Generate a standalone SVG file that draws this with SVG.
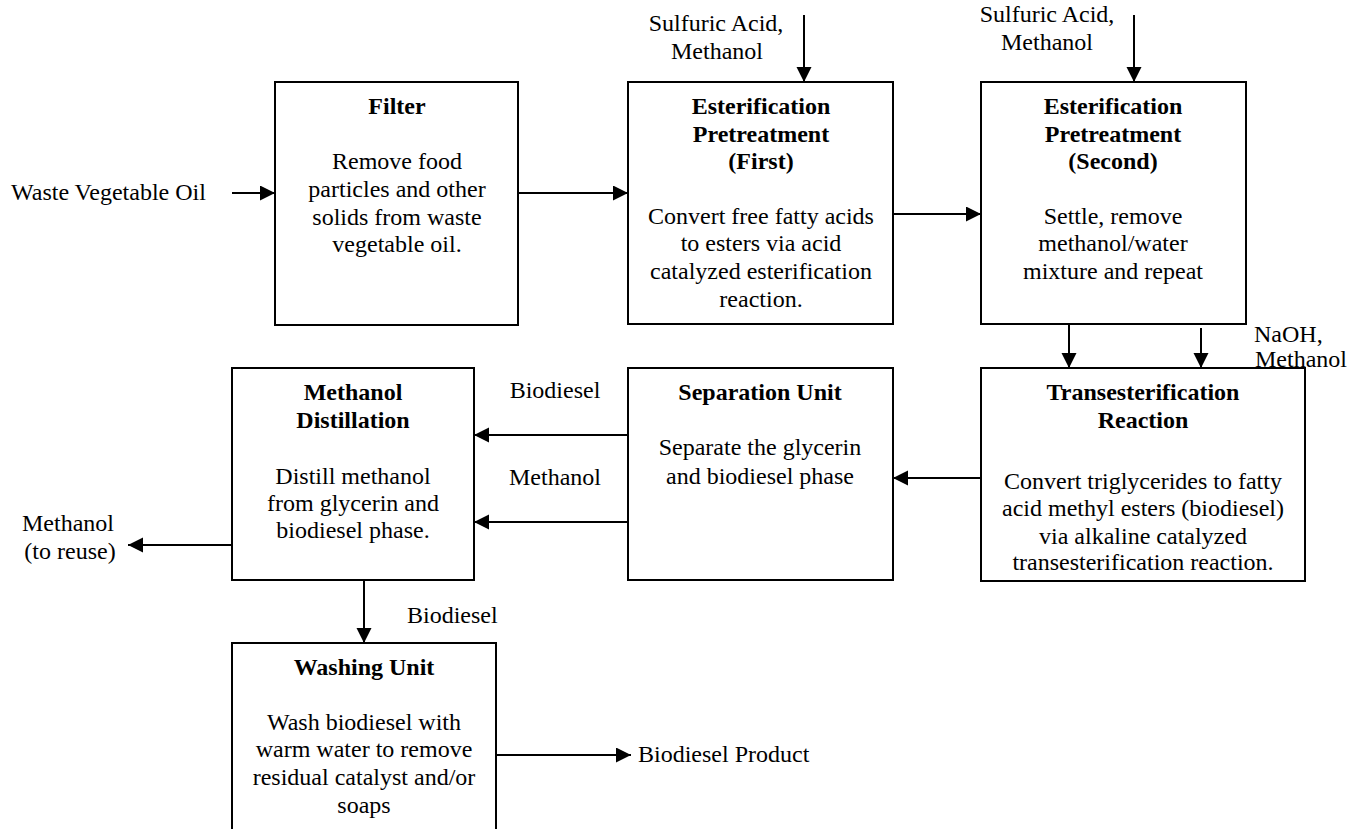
<svg xmlns="http://www.w3.org/2000/svg" width="1355" height="829" viewBox="0 0 1355 829">
  <style>
    text { font-family: "Liberation Serif", "Times New Roman", serif; font-size: 24px; fill: #000; }
    .t { font-weight: bold; text-anchor: middle; }
    .b { text-anchor: middle; }
    .box { fill: #fff; stroke: #000; stroke-width: 2; }
    .flow { fill: none; stroke: #000; stroke-width: 2; marker-end: url(#head); }
  </style>
  <defs>
    <marker id="head" markerUnits="userSpaceOnUse" markerWidth="16" markerHeight="16" refX="15" refY="7.5" orient="auto">
      <path d="M0,0 L15,7.5 L0,15 z" fill="#000"/>
    </marker>
  </defs>
  <rect width="1355" height="829" fill="#fff"/>

  <!-- connectors -->
  <g id="connectors">
    <line class="flow" x1="232" y1="193" x2="275" y2="193"/>
    <line class="flow" x1="518" y1="193" x2="628" y2="193"/>
    <line class="flow" x1="893" y1="214" x2="981" y2="214"/>
    <line class="flow" x1="804" y1="15" x2="804" y2="82"/>
    <line class="flow" x1="1134" y1="15" x2="1134" y2="82"/>
    <line class="flow" x1="1069" y1="324" x2="1069" y2="368"/>
    <line class="flow" x1="1201" y1="328" x2="1201" y2="368"/>
    <line class="flow" x1="981" y1="478" x2="893" y2="478"/>
    <line class="flow" x1="628" y1="435" x2="474" y2="435"/>
    <line class="flow" x1="628" y1="522" x2="474" y2="522"/>
    <line class="flow" x1="232" y1="545" x2="128" y2="545"/>
    <line class="flow" x1="364" y1="580" x2="364" y2="643"/>
    <line class="flow" x1="496" y1="755" x2="631" y2="755"/>
  </g>

  <!-- stream labels -->
  <g id="labels">
    <text x="11" y="200">Waste Vegetable Oil</text>
    <text class="b" x="716" y="31">Sulfuric Acid,</text>
    <text class="b" x="717" y="59">Methanol</text>
    <text class="b" x="1047" y="22">Sulfuric Acid,</text>
    <text class="b" x="1047" y="50">Methanol</text>
    <text x="1254" y="342">NaOH,</text>
    <text x="1255" y="367">Methanol</text>
    <text class="b" x="555" y="398">Biodiesel</text>
    <text class="b" x="555" y="485">Methanol</text>
    <text class="b" x="68" y="531">Methanol</text>
    <text class="b" x="70" y="559">(to reuse)</text>
    <text x="407" y="623">Biodiesel</text>
    <text x="638" y="762">Biodiesel Product</text>
  </g>

  <g id="filter">
    <rect class="box" x="275" y="82" width="243" height="243"/>
    <text class="t" x="397" y="114">Filter</text>
    <text class="b" x="397" y="169">Remove food</text>
    <text class="b" x="397" y="197">particles and other</text>
    <text class="b" x="397" y="225">solids from waste</text>
    <text class="b" x="397" y="252">vegetable oil.</text>
  </g>

  <g id="esterification-first">
    <rect class="box" x="628" y="82" width="265" height="242"/>
    <text class="t" x="761" y="114">Esterification</text>
    <text class="t" x="761" y="142">Pretreatment</text>
    <text class="t" x="761" y="169">(First)</text>
    <text class="b" x="761" y="224">Convert free fatty acids</text>
    <text class="b" x="761" y="251">to esters via acid</text>
    <text class="b" x="761" y="279">catalyzed esterification</text>
    <text class="b" x="761" y="307">reaction.</text>
  </g>

  <g id="esterification-second">
    <rect class="box" x="981" y="82" width="265" height="242"/>
    <text class="t" x="1113" y="114">Esterification</text>
    <text class="t" x="1113" y="142">Pretreatment</text>
    <text class="t" x="1113" y="169">(Second)</text>
    <text class="b" x="1113" y="224">Settle, remove</text>
    <text class="b" x="1113" y="251">methanol/water</text>
    <text class="b" x="1113" y="279">mixture and repeat</text>
  </g>

  <g id="transesterification">
    <rect class="box" x="981" y="368" width="324" height="213"/>
    <text class="t" x="1143" y="400">Transesterification</text>
    <text class="t" x="1143" y="428">Reaction</text>
    <text class="b" x="1143" y="489">Convert triglycerides to fatty</text>
    <text class="b" x="1143" y="516">acid methyl esters (biodiesel)</text>
    <text class="b" x="1143" y="544">via alkaline catalyzed</text>
    <text class="b" x="1143" y="570">transesterification reaction.</text>
  </g>

  <g id="separation">
    <rect class="box" x="628" y="368" width="265" height="212"/>
    <text class="t" x="760" y="400">Separation Unit</text>
    <text class="b" x="760" y="455">Separate the glycerin</text>
    <text class="b" x="760" y="484">and biodiesel phase</text>
  </g>

  <g id="methanol-distillation">
    <rect class="box" x="232" y="368" width="242" height="212"/>
    <text class="t" x="353" y="400">Methanol</text>
    <text class="t" x="353" y="428">Distillation</text>
    <text class="b" x="353" y="484">Distill methanol</text>
    <text class="b" x="353" y="511">from glycerin and</text>
    <text class="b" x="353" y="538">biodiesel phase.</text>
  </g>

  <g id="washing">
    <rect class="box" x="232" y="643" width="264" height="200"/>
    <text class="t" x="364" y="675">Washing Unit</text>
    <text class="b" x="364" y="730">Wash biodiesel with</text>
    <text class="b" x="364" y="757">warm water to remove</text>
    <text class="b" x="364" y="785">residual catalyst and/or</text>
    <text class="b" x="364" y="813">soaps</text>
  </g>
</svg>
